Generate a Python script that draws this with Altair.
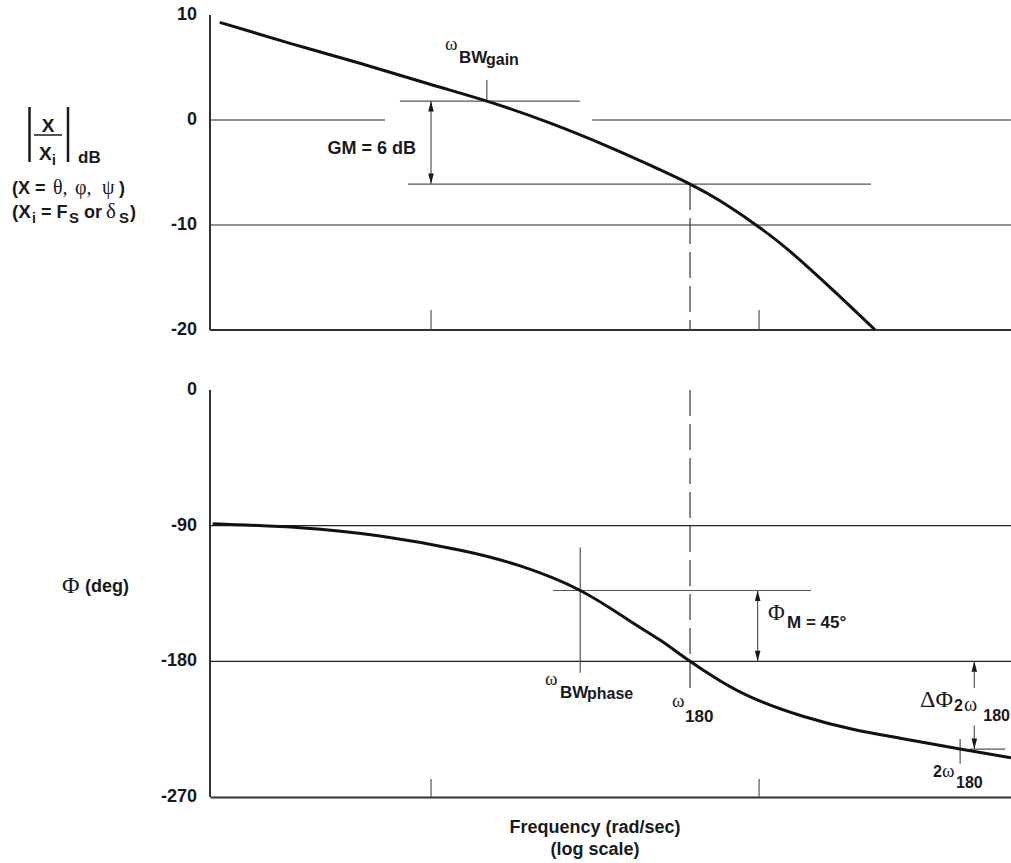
import altair as alt
import pandas as pd

# ---------------- values ----------------
freq_gain = [0.227, 0.372, 0.607, 0.993, 1.48, 2.31, 3.51, 4.65, 6.16, 7.6, 9.59, 12.2, 16.8, 22.6]
gain_db = [9.3, 7.3, 5.4, 3.4, 1.8, -0.3, -2.6, -4.3, -6.1, -7.7, -9.8, -12.3, -16.2, -20.0]

freq_phase = [0.216, 0.399, 0.699, 1.23, 1.87, 2.85, 4.05, 4.99, 6.16, 7.6, 9.59, 13.6, 19.3, 26.9, 41.0, 58.6]
phase_deg = [-88.7, -91.4, -96.9, -106.3, -116.7, -133.0, -153.4, -165.9, -180.0, -192.9,
             -204.4, -216.4, -225.0, -231.0, -238.2, -244.0]

freq_domain = [0.212, 58.6]
freq_ticks = [1, 10]
gain_domain = [-20, 10]
gain_labels = [-20, -10, 0, 10]
gain_label_text = ["-20", "-10", "0", "10"]
phase_domain = [-270, 0]
phase_labels = [-270, -180, -90, 0]
phase_label_text = ["-270", "-180", "-90", "0"]

# annotation values (frequency in rad/s, gain in dB / phase in deg)
w_bw_gain, gain_bw = 1.48, 1.8
w_180, gain_180 = 6.16, -6.1
w_bw_phase, phase_bw = 2.85, -133.0
w_2_180, phase_2_180 = 41.0, -238.2

gain_grid_f = [0.212, 3.10, 0.212]
gain_grid_f2 = [0.724, 58.6, 58.6]
gain_grid_v = [0, 0, -10]

gain_h_f = [0.804, 0.851]
gain_h_f2 = [2.84, 21.95]
gain_h_v = [gain_bw, gain_180]

gain_v_f = [w_bw_gain, 1.0, 1, 10]
gain_v_v = [gain_bw, gain_bw, -20, -20]
gain_v_v2 = [3.8, gain_180, -18.1, -18.1]

phase_grid_f = [0.212, 0.212]
phase_grid_f2 = [58.6, 58.6]
phase_grid_v = [-90, -180]

phase_h_f = [2.355, 43.9]
phase_h_f2 = [14.4, 56.3]
phase_h_v = [phase_bw, phase_2_180]

phase_v_f = [w_bw_phase, 9.9, 45.3, 45.3, w_2_180, 1, 10]
phase_v_v = [-104.5, phase_bw, -180, -222.5, -231.5, -270, -270]
phase_v_v2 = [-187.6, -180, -197.7, phase_2_180, -248.0, -258, -258]

# ---------------- styling / layout ----------------
W, H = 801, 782            # plot area: both panels stacked
TOP_RANGE = [315, 0]       # gain panel, pixels from the top of the plot area
BOT_RANGE = [782, 375]     # phase panel
INK = "#1a1a1a"
AXC = "#333333"
SANS = "Liberation Sans"
SERIF = "Liberation Serif"
UP = "M0,0L0.8,3.0L-0.8,3.0Z"
DOWN = "M0,0L0.8,-3.0L-0.8,-3.0Z"
O = (210, 15)              # page position of the plot origin

x_scale = alt.Scale(type="log", domain=freq_domain, nice=False)
x_axis = alt.Axis(title=None, labels=False, ticks=False, grid=False,
                  domainColor=AXC, domainWidth=2)


def X(field):
    return alt.X(field, type="quantitative", scale=x_scale, axis=x_axis)


def make_y(domain, rng):
    sc = alt.Scale(domain=domain, range=rng, nice=False, zero=False)

    def Y(field):
        return alt.Y(field, type="quantitative", scale=sc, axis=None)
    return Y


YT = make_y(gain_domain, TOP_RANGE)
YB = make_y(phase_domain, BOT_RANGE)
one = pd.DataFrame({"k": [0]})


def label(s, x, y, size=17, serif=False, align="left"):
    return alt.Chart(one).mark_text(
        text=s, font=SERIF if serif else SANS, fontSize=size,
        fontWeight="normal" if serif else "bold", align=align, baseline="alphabetic",
        color=INK,
    ).encode(x=alt.value(x - O[0]), y=alt.value(y - O[1]))


def hrules(f, f2, v, Y, color="#555", width=1.2):
    df = pd.DataFrame({"f": f, "f2": f2, "v": v})
    return alt.Chart(df).mark_rule(color=color, strokeWidth=width).encode(
        x=X("f"), x2="f2", y=Y("v"))


def vrules(f, v, v2, Y, color="#555", width=1.2, dash=None):
    df = pd.DataFrame({"f": f, "v": v, "v2": v2})
    kw = {"strokeDash": dash} if dash else {}
    return alt.Chart(df).mark_rule(color=color, strokeWidth=width, **kw).encode(
        x=X("f"), y=Y("v"), y2="v2")


def heads(f, v, shape, Y):
    df = pd.DataFrame({"f": f, "v": v})
    return alt.Chart(df).mark_point(shape=shape, size=49, filled=True, color=INK,
                                    opacity=1, strokeWidth=0).encode(x=X("f"), y=Y("v"))


def y_axis(labels, texts, Y):
    df = pd.DataFrame({"v": labels, "t": texts})
    return alt.Chart(df).mark_text(align="right", baseline="middle", font=SANS,
                                   fontSize=18, fontWeight="bold", color=INK).encode(
        x=alt.value(-13), y=Y("v"), text="t:N")


# ---------------- gain panel ----------------
gain_df = pd.DataFrame({"f": freq_gain, "v": gain_db})
gain_layers = [
    hrules(gain_grid_f, gain_grid_f2, gain_grid_v, YT, color="#222", width=1.1),
    hrules([freq_domain[0]], [freq_domain[1]], [gain_domain[0]], YT, color=AXC, width=2),
    vrules([freq_domain[0]], [gain_domain[1]], [gain_domain[0]], YT, color=AXC, width=2),
    y_axis(gain_labels, gain_label_text, YT),
    hrules(gain_h_f, gain_h_f2, gain_h_v, YT),
    vrules(gain_v_f, gain_v_v, gain_v_v2, YT),
    vrules([w_180], [gain_180], [gain_domain[0]], YT, color="#444", width=1.3, dash=[26, 8]),
    alt.Chart(gain_df).mark_line(interpolate="natural", color="#111", strokeWidth=3).encode(
        x=X("f"), y=YT("v")),
    heads([1.0], [gain_bw], UP, YT),
    heads([1.0], [gain_180], DOWN, YT),
    # left title block
    alt.Chart(one).mark_rule(color=INK, strokeWidth=2.5).encode(
        x=alt.value(29.5 - O[0]), y=alt.value(107 - O[1]), y2=alt.value(162 - O[1])),
    alt.Chart(one).mark_rule(color=INK, strokeWidth=2.5).encode(
        x=alt.value(68 - O[0]), y=alt.value(107 - O[1]), y2=alt.value(162 - O[1])),
    alt.Chart(one).mark_rule(color=INK, strokeWidth=1.5).encode(
        x=alt.value(34 - O[0]), x2=alt.value(62 - O[0]), y=alt.value(135 - O[1])),
    label("X", 48, 132, size=19, align="center"),
    label("X", 39, 160, size=19),
    label("i", 52, 165, size=14),
    label("dB", 78, 163, size=17),
    label("(X = ", 12, 194, size=18),
    label("θ,", 53, 194, size=20, serif=True),
    label("φ,", 75, 194, size=20, serif=True),
    label("ψ", 102, 194, size=20, serif=True),
    label(")", 119, 194, size=18),
    label("(X", 12, 218, size=19),
    label("i", 32, 223, size=14),
    label("= F", 41, 218, size=18),
    label("S", 69, 223, size=15),
    label("or", 84, 218, size=18),
    label("δ", 106, 218, size=21, serif=True),
    label("S", 119, 223, size=15),
    label(")", 130, 218, size=18),
    # annotations
    label("ω", 445, 50, size=19, serif=True),
    label("BW", 459, 63, size=17),
    label("gain", 486, 65, size=16),
    label("GM = 6 dB", 416, 154, size=18, align="right"),
]
gain_panel = alt.layer(*gain_layers)

# ---------------- phase panel ----------------
phase_df = pd.DataFrame({"f": freq_phase, "v": phase_deg})
phase_layers = [
    hrules(phase_grid_f, phase_grid_f2, phase_grid_v, YB, color="#222", width=1.1),
    vrules([freq_domain[0]], [phase_domain[1]], [phase_domain[0]], YB, color=AXC, width=2),
    y_axis(phase_labels, phase_label_text, YB),
    hrules(phase_h_f, phase_h_f2, phase_h_v, YB),
    vrules(phase_v_f, phase_v_v, phase_v_v2, YB),
    vrules([w_180], [0], [-200.9], YB, color="#444", width=1.3, dash=[26, 8]),
    alt.Chart(phase_df).mark_line(interpolate="natural", color="#111", strokeWidth=3).encode(
        x=X("f"), y=YB("v")),
    heads([9.9, 45.3], [phase_bw, -180], UP, YB),
    heads([9.9, 45.3], [-180, phase_2_180], DOWN, YB),
    label("Φ", 62, 593, size=24, serif=True),
    label("(deg)", 85, 592, size=18),
    label("ω", 545, 685, size=19, serif=True),
    label("BW", 560, 698, size=17),
    label("phase", 587, 699, size=16),
    label("ω", 672, 707, size=19, serif=True),
    label("180", 685, 722, size=17),
    label("Φ", 768, 620, size=23, serif=True),
    label("M = 45°", 787, 628, size=17),
    label("ΔΦ", 920, 707, size=24, serif=True),
    label("2", 954, 711, size=16),
    label("ω", 964, 711, size=20, serif=True),
    label("180", 1010, 721, size=16, align="right"),
    label("2", 933, 777, size=16),
    label("ω", 942, 777, size=19, serif=True),
    label("180", 956, 788, size=16),
    label("Frequency (rad/sec)", 595, 833, size=18, align="center"),
    label("(log scale)", 595, 855, size=18, align="center"),
]
phase_panel = alt.layer(*phase_layers)

chart = alt.layer(gain_panel, phase_panel).resolve_scale(y="independent").properties(
    width=W, height=H,
    autosize=alt.AutoSizeParams(type="none"),
    padding={"left": O[0], "top": O[1], "right": 1011 - O[0] - W, "bottom": 863 - O[1] - H},
    background="white",
).configure_view(stroke=None)

chart.save("out.html", embed_options={"renderer": "svg", "actions": False})
